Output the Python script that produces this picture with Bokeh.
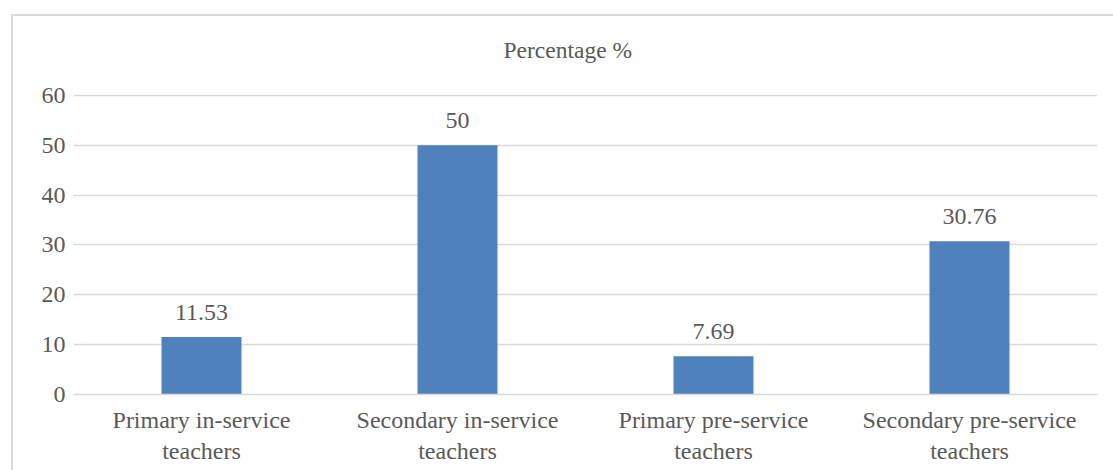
from bokeh.plotting import figure
from bokeh.models import ColumnDataSource, LabelSet, FixedTicker
from bokeh.embed import file_html
from bokeh.resources import INLINE

# Data
categories = [
    "Primary in-service\nteachers",
    "Secondary in-service\nteachers",
    "Primary pre-service\nteachers",
    "Secondary pre-service\nteachers",
]
percentages = [11.53, 50, 7.69, 30.76]
value_labels = ["11.53", "50", "7.69", "30.76"]
y_ticks = [0, 10, 20, 30, 40, 50, 60]
chart_title = "Percentage %"

FONT = "Liberation Serif"
TEXT_COLOR = "#595959"
GRID_COLOR = "#d9d9d9"
BAR_COLOR = "#4f81bd"

# Chart-area frame (top and left edges) painted as the element's background
frame_css = (
    f"linear-gradient({GRID_COLOR}, {GRID_COLOR}) 11px 14px / 100% 2px no-repeat, "
    f"linear-gradient({GRID_COLOR}, {GRID_COLOR}) 11px 14px / 2px 100% no-repeat, "
    "white"
)

source = ColumnDataSource(data=dict(cat=categories, val=percentages, lab=value_labels))

p = figure(
    x_range=categories,
    y_range=(0, 60.2),
    width=1113,
    height=470,
    styles={"background": frame_css},
    output_backend="svg",
    toolbar_location=None,
    min_border_left=73,
    min_border_right=16,
    min_border_top=94,
    min_border_bottom=76,
)
p.outline_line_color = None
p.background_fill_color = None
p.border_fill_color = None

p.vbar(x="cat", top="val", width=0.3125, source=source,
       fill_color=BAR_COLOR, line_color=None)

labels = LabelSet(x="cat", y="val", text="lab", source=source,
                  text_align="center", text_baseline="alphabetic", y_offset=17,
                  text_font=FONT, text_font_size="24px", text_color=TEXT_COLOR)
p.add_layout(labels)

# Chart title
p.title.text = chart_title
p.title.align = "left"
p.title.offset = 430
p.title.standoff = 64
p.title.text_font = FONT
p.title.text_font_size = "23.5px"
p.title.text_font_style = "normal"
p.title.text_color = TEXT_COLOR

# Y axis: labels only, with horizontal gridlines
p.yaxis.ticker = FixedTicker(ticks=y_ticks)
p.yaxis.axis_line_color = None
p.yaxis.major_tick_line_color = None
p.yaxis.minor_tick_line_color = None
p.yaxis.major_label_standoff = 2
p.yaxis.major_label_text_font = FONT
p.yaxis.major_label_text_font_size = "24px"
p.yaxis.major_label_text_color = TEXT_COLOR

p.ygrid.grid_line_color = GRID_COLOR
p.ygrid.grid_line_width = 1.5
p.xgrid.grid_line_color = None

# X axis: category names
p.xaxis.axis_line_color = GRID_COLOR
p.xaxis.axis_line_width = 1.5
p.xaxis.major_tick_line_color = None
p.xaxis.minor_tick_line_color = None
p.xaxis.major_label_standoff = 6
p.xaxis.major_label_text_font = FONT
p.xaxis.major_label_text_font_size = "24px"
p.xaxis.major_label_text_color = TEXT_COLOR

open("out.html", "w").write(file_html(p, INLINE))
